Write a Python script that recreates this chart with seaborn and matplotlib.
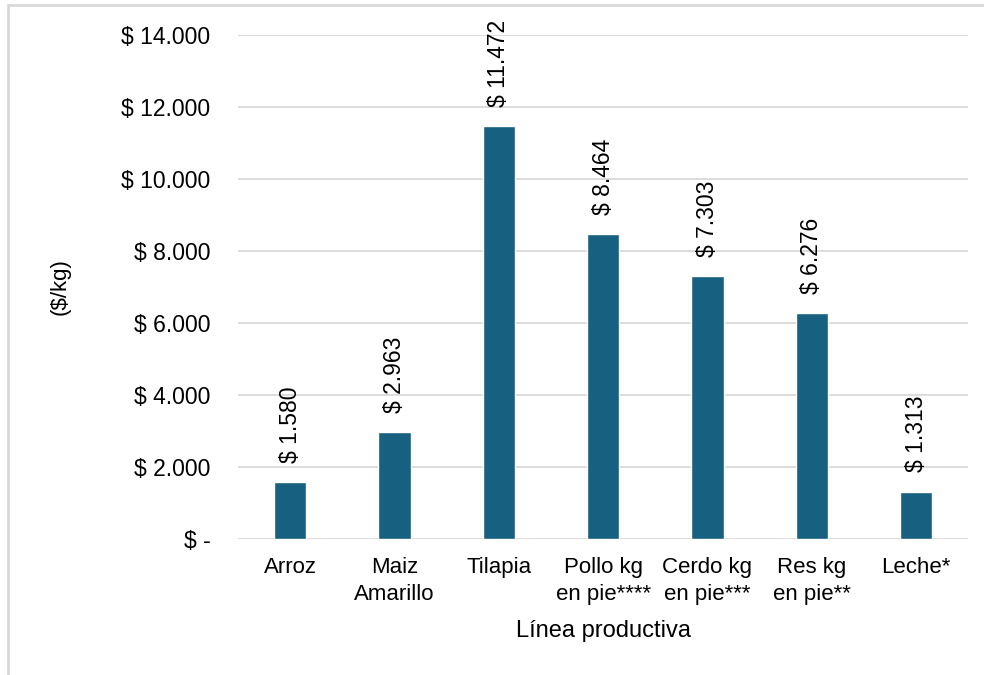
import matplotlib.pyplot as plt
from matplotlib.lines import Line2D
import pandas as pd
import seaborn as sns

# Data
categories = ['Arroz', 'Maiz\nAmarillo', 'Tilapia', 'Pollo kg\nen pie****',
              'Cerdo kg\nen pie***', 'Res kg\nen pie**', 'Leche*']
prices = [1580, 2963, 11472, 8464, 7303, 6276, 1313]
y_ticks = [0, 2000, 4000, 6000, 8000, 10000, 12000, 14000]

df = pd.DataFrame({'linea': categories, 'precio': prices})


def peso(v):
    if v == 0:
        return '$ -'
    return '$ ' + f'{v:,.0f}'.replace(',', '.')


sns.set_theme(style='white')
plt.rcParams['font.family'] = ['Liberation Sans', 'DejaVu Sans']

fig = plt.figure(figsize=(9.84, 6.75), dpi=100)
ax = fig.add_axes([0.242, 0.2015, 0.742, 0.7465])

sns.barplot(data=df, x='linea', y='precio', color='#17607f', saturation=1,
            width=0.31, ax=ax)

ax.set_ylim(0, 14000)
ax.set_yticks(y_ticks)
ax.set_yticklabels([peso(v) for v in y_ticks], fontsize=16.5, color='#000000')
ax.tick_params(axis='x', labelsize=16, colors='#000000', pad=13, length=0)
ax.tick_params(axis='y', length=0, pad=20)
for lbl in ax.get_yticklabels():
    lbl.set_horizontalalignment('right')
for lbl in ax.get_xticklabels():
    lbl.set_linespacing(1.4)

ax.yaxis.grid(True, color='#d9d9d9', linewidth=1.3)
ax.set_axisbelow(True)
sns.despine(ax=ax, left=True, bottom=True)

# value labels above bars
for i, v in enumerate(prices):
    ax.annotate(peso(v), xy=(i, v), xytext=(0, 14), textcoords='offset points',
                rotation=90, ha='center', va='bottom', fontsize=16.5, color='#000000')

ax.set_ylabel('($/kg)', fontsize=16, color='#000000')
ax.yaxis.set_label_coords(-0.23, 0.5)
ax.set_xlabel('Línea productiva', fontsize=17, color='#000000')
ax.xaxis.set_label_coords(0.5, -0.16)

# chart border (left and top visible)
fig.add_artist(Line2D([8 / 984, 8 / 984], [0, 1 - 5 / 675], transform=fig.transFigure,
                      color='#d9d9d9', linewidth=2))
fig.add_artist(Line2D([8 / 984, 1], [1 - 5 / 675, 1 - 5 / 675], transform=fig.transFigure,
                      color='#d9d9d9', linewidth=2))

plt.savefig('out.png', dpi=100)
plt.close()
